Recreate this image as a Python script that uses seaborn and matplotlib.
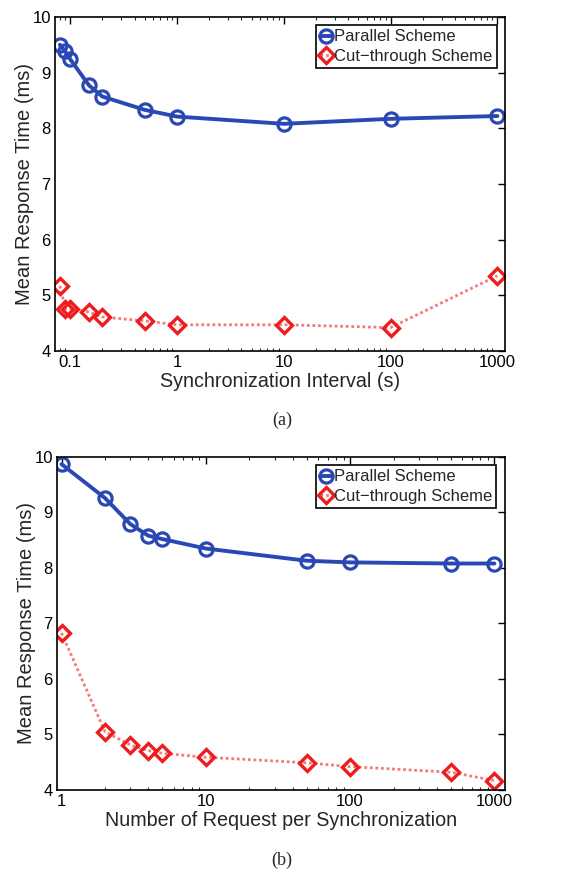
import matplotlib
matplotlib.use("Agg")
import matplotlib.pyplot as plt
import seaborn as sns
import numpy as np
from matplotlib.ticker import FixedLocator, FixedFormatter, LogLocator, NullFormatter

# ---- data ----
interval_s = [0.08, 0.09, 0.1, 0.15, 0.2, 0.5, 1, 10, 100, 1000]
parallel_a = [9.50, 9.38, 9.24, 8.77, 8.57, 8.33, 8.21, 8.08, 8.17, 8.22]
cut_a = [5.17, 4.76, 4.76, 4.70, 4.61, 4.54, 4.47, 4.47, 4.42, 5.35]

requests = [1, 2, 3, 4, 5, 10, 50, 100, 500, 1000]
parallel_b = [9.87, 9.26, 8.79, 8.58, 8.52, 8.35, 8.13, 8.10, 8.08, 8.08]
cut_b = [6.83, 5.05, 4.81, 4.71, 4.66, 4.59, 4.49, 4.42, 4.32, 4.17]

xticks_a = [0.1, 1, 10, 100, 1000]
xticklabels_a = ["0.1", "1", "10", "100", "1000"]
xticks_b = [1, 10, 100, 1000]
xticklabels_b = ["1", "10", "100", "1000"]
yticks = [4, 5, 6, 7, 8, 9, 10]

sns.set_style("white")
plt.rcParams["font.family"] = ["Liberation Sans", "DejaVu Sans"]

BLUE = "#2a48b4"
RED = "#ee1c1c"
RED_LINE = "#f27a7a"

fig = plt.figure(figsize=(5.64, 8.73), dpi=100)
ax1 = fig.add_axes([0.0975, 0.598, 0.798, 0.3826])
ax2 = fig.add_axes([0.101, 0.0951, 0.794, 0.3815])


def draw(ax, x, par, cut, xlim, xt, xtl, xlabel):
    sns.lineplot(x=x, y=par, ax=ax, color=BLUE, linewidth=2.8, marker="o",
                 markersize=9.5, markerfacecolor="none", markeredgecolor=BLUE,
                 markeredgewidth=2.3, label="Parallel Scheme")
    sns.lineplot(x=x, y=cut, ax=ax, color=RED_LINE, linewidth=2.0, linestyle=(0, (1, 1)),
                 marker="D", markersize=8.5, markerfacecolor="none",
                 markeredgecolor=RED, markeredgewidth=2.4,
                 label="Cut\u2212through Scheme")
    ax.set_xscale("log")
    ax.set_xlim(*xlim)
    ax.set_ylim(4, 10)
    ax.xaxis.set_major_locator(FixedLocator(xt))
    ax.xaxis.set_major_formatter(FixedFormatter(xtl))
    ax.xaxis.set_minor_locator(LogLocator(base=10, subs=np.arange(2, 10)))
    ax.xaxis.set_minor_formatter(NullFormatter())
    ax.set_yticks(yticks)
    ax.set_yticklabels([str(v) for v in yticks])
    ax.tick_params(axis="both", which="major", direction="in", length=5,
                   width=1.0, labelsize=12, top=True, right=True, pad=3,
                   colors="black")
    ax.tick_params(axis="x", which="minor", direction="in", length=2.5,
                   width=0.8, top=True, bottom=True)
    for s in ax.spines.values():
        s.set_color("black")
        s.set_linewidth(1.2)
    ax.set_xlabel(xlabel, fontsize=14.2, labelpad=1)
    ax.set_ylabel("Mean Response Time (ms)", fontsize=14.5, labelpad=-1)
    leg = ax.legend(loc="upper right", fontsize=12, frameon=True, fancybox=False,
                    edgecolor="black", framealpha=1, handlelength=0.7,
                    handletextpad=0.15, borderpad=0.25, labelspacing=0.25,
                    borderaxespad=0.5)
    leg.get_frame().set_linewidth(1.2)


draw(ax1, interval_s, parallel_a, cut_a, (0.072, 1180), xticks_a, xticklabels_a,
     "Synchronization Interval (s)")
draw(ax2, requests, parallel_b, cut_b, (0.93, 1180), xticks_b, xticklabels_b,
     "Number of Request per Synchronization")

fig.text(0.5, 1 - 420 / 873, "(a)", ha="center", va="center",
         family="Liberation Serif", fontsize=13)
fig.text(0.5, 1 - 860 / 873, "(b)", ha="center", va="center",
         family="Liberation Serif", fontsize=13)

fig.savefig("out.png", dpi=100, facecolor="white")
